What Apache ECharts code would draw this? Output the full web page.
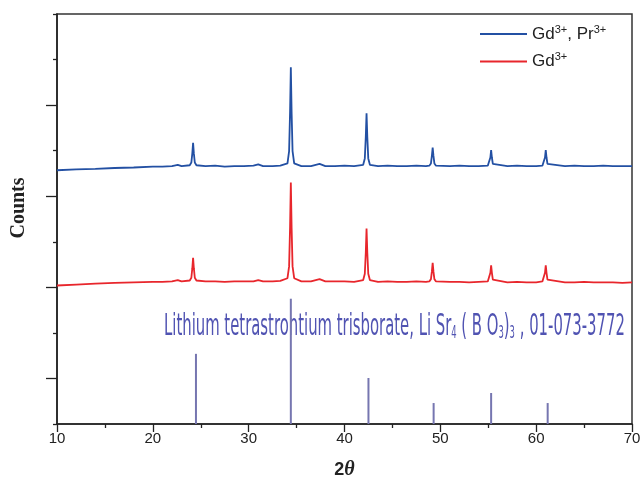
<!DOCTYPE html>
<html>
<head>
<meta charset="utf-8">
<script src="https://cdn.jsdelivr.net/npm/echarts@6/dist/echarts.min.js"></script>
<style>
  html, body { margin: 0; padding: 0; background: #fff; }
  #container { width: 644px; height: 482px; }
</style>
</head>
<body>
<div id="container"></div>
<script>
// XRD pattern, Gd3+ / Gd3+,Pr3+ samples + reference card 01-073-3772
var theta = [10, 12, 14, 16, 18, 20, 21, 22, 22.6, 23, 23.85, 24.02, 24.12, 24.2, 24.28, 24.38, 24.55, 25.5, 26.5, 27.5, 28.5, 29.5, 30.5, 31, 31.5, 32.5, 33.3,
    34.05, 34.22, 34.32, 34.4, 34.48, 34.58, 34.75, 35.5, 36.5, 37.4, 38, 39, 40, 41,
    41.95, 42.12, 42.22, 42.3, 42.38, 42.48, 42.65, 43.5, 44.5, 45.5, 46.5, 47.5, 48.5,
    48.85, 49.02, 49.12, 49.2, 49.28, 49.38, 49.55, 51, 52, 53, 54,
    54.95, 55.12, 55.22, 55.3, 55.38, 55.48, 55.65, 57, 58, 59, 60,
    60.65, 60.82, 60.92, 61, 61.08, 61.18, 61.35, 63, 64, 65, 66, 67, 68, 69, 70];

var blueCounts = [5.57, 5.59, 5.60, 5.62, 5.63, 5.65, 5.65, 5.66, 5.69, 5.66, 5.68, 5.74, 5.94, 6.17, 5.94, 5.74, 5.68, 5.66, 5.67, 5.65, 5.66, 5.66, 5.67, 5.70, 5.66, 5.66, 5.67,
    5.72, 5.99, 6.85, 7.83, 6.85, 5.99, 5.72, 5.66, 5.66, 5.71, 5.66, 5.66, 5.67, 5.66,
    5.69, 5.83, 6.30, 6.82, 6.30, 5.83, 5.69, 5.66, 5.67, 5.66, 5.66, 5.67, 5.66,
    5.67, 5.72, 5.89, 6.07, 5.89, 5.72, 5.67, 5.66, 5.67, 5.66, 5.66,
    5.67, 5.71, 5.85, 6.01, 5.85, 5.71, 5.67, 5.66, 5.67, 5.66, 5.66,
    5.67, 5.71, 5.85, 6.01, 5.85, 5.71, 5.67, 5.66, 5.67, 5.66, 5.66, 5.67, 5.66, 5.66, 5.66];

var redCounts = [3.04, 3.06, 3.08, 3.10, 3.11, 3.12, 3.12, 3.13, 3.16, 3.13, 3.15, 3.21, 3.42, 3.65, 3.42, 3.21, 3.15, 3.13, 3.13, 3.12, 3.13, 3.13, 3.13, 3.16, 3.13, 3.13, 3.14,
    3.20, 3.46, 4.32, 5.30, 4.32, 3.46, 3.20, 3.13, 3.13, 3.18, 3.13, 3.13, 3.13, 3.12,
    3.16, 3.30, 3.76, 4.29, 3.76, 3.30, 3.16, 3.12, 3.13, 3.12, 3.12, 3.13, 3.12,
    3.13, 3.18, 3.35, 3.54, 3.35, 3.18, 3.13, 3.12, 3.12, 3.11, 3.12,
    3.13, 3.17, 3.32, 3.48, 3.32, 3.17, 3.13, 3.11, 3.12, 3.11, 3.11,
    3.13, 3.17, 3.32, 3.48, 3.32, 3.17, 3.13, 3.11, 3.11, 3.12, 3.11, 3.11, 3.11, 3.10, 3.11];

// reference card lines
var refTheta = [24.5, 34.4, 42.5, 49.3, 55.3, 61.2];
var refHeight = [1.54, 2.75, 1.01, 0.46, 0.68, 0.46];

var xTicks = [10, 20, 30, 40, 50, 60, 70];

function zip(a, b) {
    var out = [];
    for (var i = 0; i < a.length; i++) out.push([a[i], b[i]]);
    return out;
}

var legendText = {
    'Gd3+, Pr3+': '{n|Gd}{sup|3+}{n|, Pr}{sup|3+}',
    'Gd3+': '{n|Gd}{sup|3+}'
};

var myChart = echarts.init(document.getElementById('container'));
var option = {
    animation: false,
    backgroundColor: '#fff',
    grid: {
        left: 57, right: 12, top: 14, bottom: 58,
        outerBoundsMode: 'none',
        show: true, borderColor: '#333', borderWidth: 1.5
    },
    legend: {
        orient: 'vertical',
        left: 475, top: 19,
        itemWidth: 47, itemHeight: 2, itemGap: 9,
        icon: 'rect',
        data: ['Gd3+, Pr3+', 'Gd3+'],
        formatter: function (name) { return legendText[name]; },
        textStyle: {
            rich: {
                n: { fontFamily: 'Liberation Sans', fontSize: 17, color: '#222' },
                sup: { fontFamily: 'Liberation Sans', fontSize: 11, color: '#222', padding: [0, 0, 9, 0] }
            }
        }
    },
    xAxis: {
        type: 'value', min: 10, max: 70, interval: 10,
        name: '{b|2}{i|θ}',
        nameLocation: 'middle', nameGap: 36,
        nameTextStyle: {
            rich: {
                b: { fontFamily: 'Liberation Sans', fontWeight: 'bold', fontSize: 18, color: '#222' },
                i: { fontFamily: 'Liberation Serif', fontStyle: 'italic', fontWeight: 'bold', fontSize: 20, color: '#222' }
            }
        },
        axisLine: { lineStyle: { color: '#222', width: 1.6 } },
        axisTick: { length: 8, lineStyle: { color: '#222', width: 1.3 } },
        minorTick: { show: true, splitNumber: 2, length: 4, lineStyle: { color: '#222', width: 1.3 } },
        axisLabel: {
            fontFamily: 'Liberation Sans', fontSize: 15, color: '#222', margin: 7,
            formatter: function (v) { return xTicks.indexOf(v) >= 0 ? String(v) : ''; }
        },
        splitLine: { show: false }
    },
    yAxis: {
        type: 'value', min: 0, max: 9, interval: 2,
        name: 'Counts',
        nameLocation: 'middle', nameGap: 28,
        nameTextStyle: { fontFamily: 'Liberation Serif', fontWeight: 'bold', fontSize: 20, color: '#222', padding: [0, 0, 0, 22] },
        axisLine: { lineStyle: { color: '#222', width: 1.6 } },
        axisTick: { length: 4, lineStyle: { color: '#222', width: 1.3 } },
        minorTick: { show: true, splitNumber: 2, length: 11, lineStyle: { color: '#222', width: 1.3 } },
        axisLabel: { show: false },
        splitLine: { show: false }
    },
    graphic: [{
        type: 'text',
        left: 164, top: 312,
        scaleX: 0.495,
        z: 1,
        style: {
            text: 'Lithium tetrastrontium trisborate, Li Sr{s|4} ( B O{s|3}){s|3} , 01-073-3772',
            fontFamily: 'DejaVu Sans', fontSize: 30, fill: '#5053b2',
            rich: {
                s: { fontFamily: 'DejaVu Sans', fontSize: 17, fill: '#5053b2', padding: [13, 0, 0, 0] }
            }
        }
    }],
    series: [
        {
            name: 'Gd3+, Pr3+', type: 'line', symbol: 'none',
            data: zip(theta, blueCounts),
            lineStyle: { color: '#2350a3', width: 1.8 },
            itemStyle: { color: '#2350a3' }
        },
        {
            name: 'Gd3+', type: 'line', symbol: 'none',
            data: zip(theta, redCounts),
            lineStyle: { color: '#e8262c', width: 1.8 },
            itemStyle: { color: '#e8262c' }
        },
        {
            name: 'ref', type: 'bar', barWidth: 2,
            data: zip(refTheta, refHeight),
            itemStyle: { color: '#7676b0' }
        }
    ]
};
myChart.setOption(option);
</script>
</body>
</html>
